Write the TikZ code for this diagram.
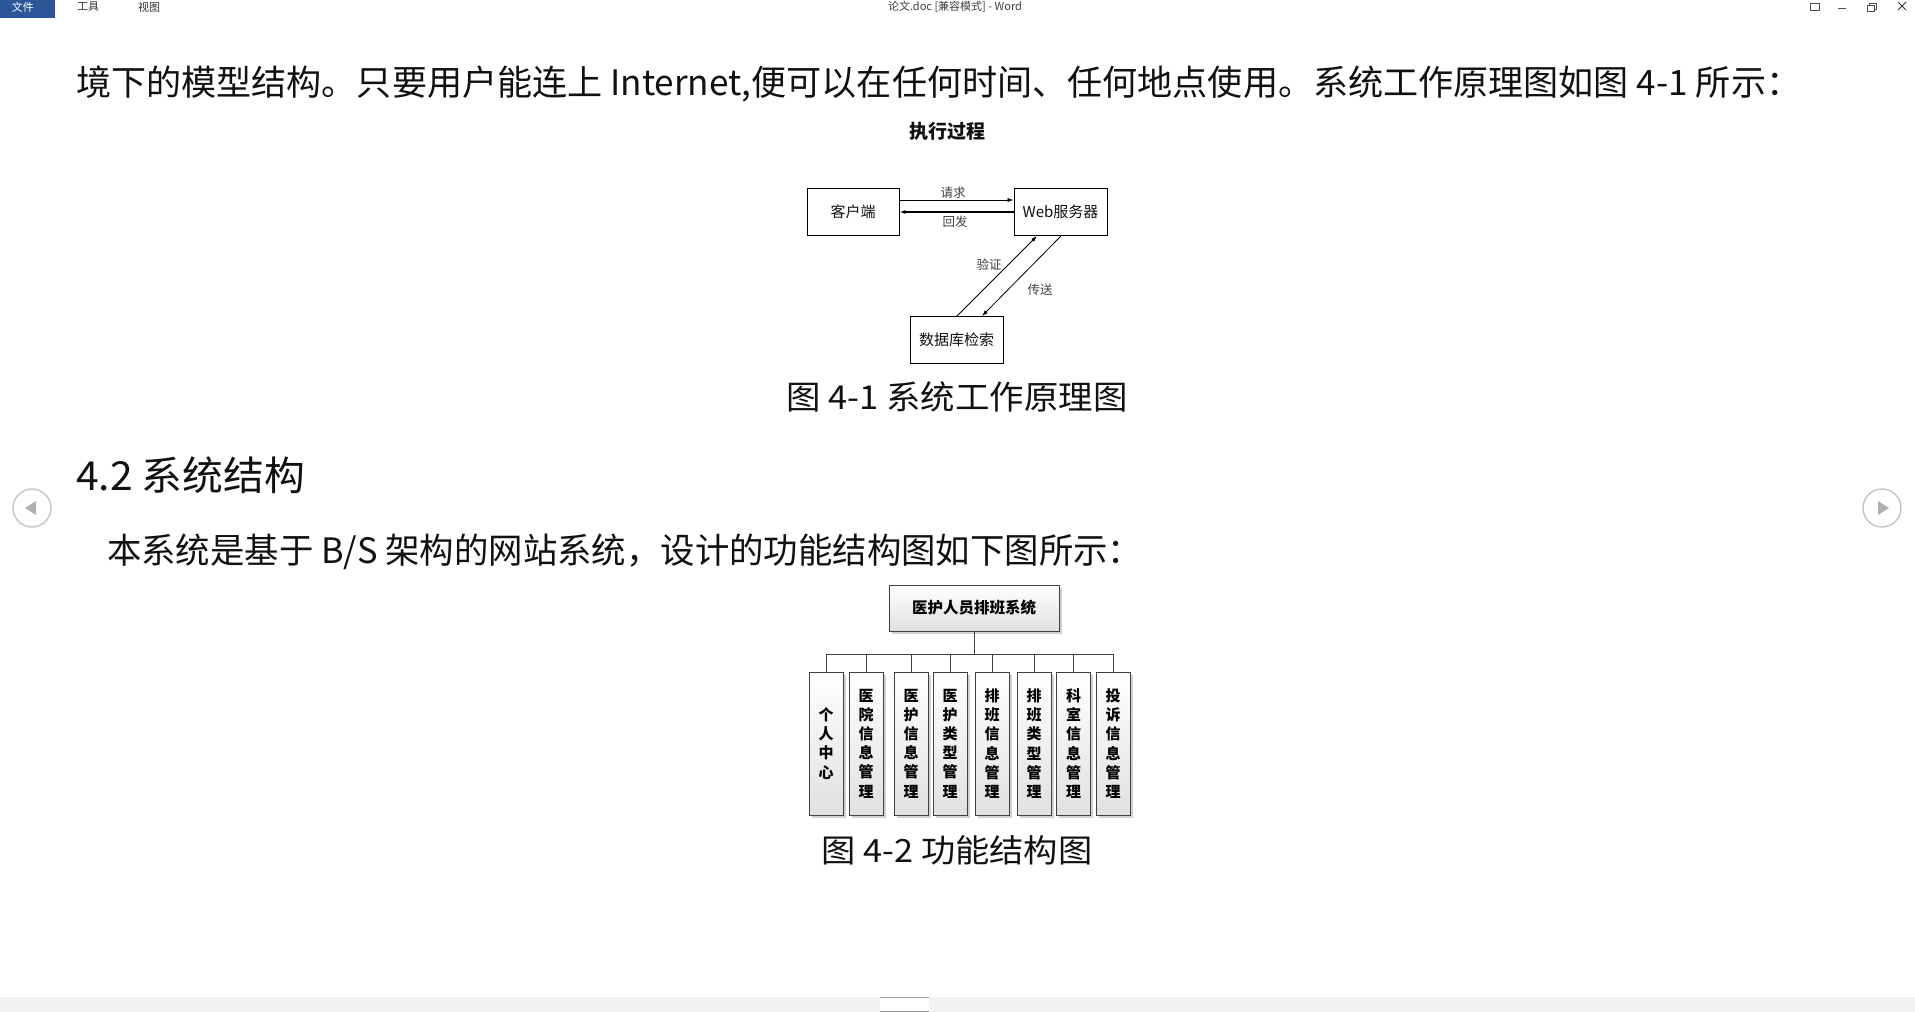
\documentclass[tikz,border=0pt]{standalone}
\usepackage{fontspec}
\usepackage{graphicx}
\usetikzlibrary{arrows.meta,shadows,calc}
\newfontfamily\cjk{Noto Sans CJK SC}
\definecolor{wordblue}{HTML}{2B579A}
\definecolor{txt}{HTML}{111111}
\definecolor{navgray}{HTML}{C4C4C4}
\tikzset{
  dbox/.style={draw=black, line width=0.9pt, fill=white, minimum width=92pt, minimum height=47pt, inner sep=0pt, font=\cjk\fontsize{15}{15}\selectfont, text=txt},
  arr/.style={-{Latex[length=6pt,width=4pt]}, line width=0.8pt, black},
  lbl/.style={font=\cjk\fontsize{12.5}{12.5}\selectfont, text=black!75, inner sep=0pt},
  orgbox/.style={draw=black!75, line width=0.9pt, top color=white, bottom color=black!12,
     drop shadow={shadow xshift=2.5pt, shadow yshift=-2.5pt, fill=black!30, opacity=0.6}, inner sep=0pt},
  orgroot/.style={orgbox, minimum width=170pt, minimum height=46pt, font=\cjk\bfseries\fontsize{15.5}{15.5}\selectfont},
  orgleaf/.style={orgbox, minimum width=34pt, minimum height=143pt, align=center, font=\cjk\bfseries\fontsize{15}{19.2}\selectfont},
  orgline/.style={draw=black!75, line width=0.9pt},
  bodytext/.style={font=\cjk\fontsize{35}{35}\selectfont, text=txt, inner sep=0pt},
  uitext/.style={font=\cjk\fontsize{11}{11}\selectfont, inner sep=0pt},
}
\begin{document}
\begin{tikzpicture}[x=1pt,y=-1pt]
\path[use as bounding box] (0,0) rectangle (1915,1012);
\fill[white] (0,0) rectangle (1915,1012);

% ---------- window chrome ----------
\fill[wordblue] (0,0) rectangle (55,18);
\node[uitext, text=white] (mfile) at (23,7) {文件};
\node[uitext, text=black!80] (mtools) at (88,7) {工具};
\node[uitext, text=black!80] (mview) at (149,7) {视图};
\node[uitext, text=black!75] (wtitle) at (955,7) {论文.doc [兼容模式] - Word};
% right icons
\draw[black!70, line width=0.7pt] (1810,3) -- (1810,10) -- (1819,10) -- (1819,3) -- cycle;
\draw[black!70, line width=0.9pt] (1838,8) -- (1846,8);
\draw[black!70, line width=0.7pt] (1867,5) rectangle (1874,11);
\draw[black!70, line width=0.7pt] (1869,5) -- (1869,3) -- (1876,3) -- (1876,9) -- (1874,9);
\draw[black!80, line width=0.9pt] (1898,2) -- (1906,10) (1906,2) -- (1898,10);

% navigation circles
\draw[navgray, line width=1.4pt, fill=white] (32,508) circle (19);
\fill[navgray!90!black] (25,508) -- (36,501) -- (36,515) -- cycle;
\draw[navgray, line width=1.4pt, fill=white] (1882,508) circle (19);
\fill[navgray!90!black] (1889,508) -- (1878,501) -- (1878,515) -- cycle;

% bottom bar
\fill[black!5] (0,997) rectangle (1915,1012);
\fill[white] (880,997) rectangle (929,1012);
\draw[black!40, line width=0.8pt] (880,997.5) -- (929,997.5) (880,1011.5) -- (929,1011.5);

% ---------- body text ----------
\node[bodytext, anchor=west] (para1) at (76,84) {\resizebox{1725pt}{\height}{境下的模型结构。只要用户能连上 Internet,便可以在任何时间、任何地点使用。系统工作原理图如图 4-1 所示：}};

% ---------- figure 4-1 ----------
\node[font=\cjk\bfseries\fontsize{19}{19}\selectfont, text=txt, inner sep=0pt] (ftitle) at (947,131) {执行过程};
\node[dbox] (client) at (853,212) {客户端};
\node[dbox, minimum width=93pt] (web) at (1060.5,212) {Web服务器};
\node[dbox, minimum width=93pt] (db) at (956.5,340) {数据库检索};

\draw[arr] ($(client.east)+(0,-12)$) -- ($(web.west)+(0,-12)$);
\draw[arr, line width=1.3pt] (web.west) -- (client.east);
\node[lbl] (lreq) at (953,193) {请求};
\node[lbl] (lback) at (955,222) {回发};

\draw[arr] ($(db.north)+(0.5,0)$) -- ($(web.south)+(-23.5,0)$);
\draw[arr] ($(web.south)+(0.5,0)$) -- ($(db.north)+(25.5,0)$);
\node[lbl] (lver) at (989,265) {验证};
\node[lbl] (lsend) at (1040,290) {传送};

\node[font=\cjk\fontsize{33}{33}\selectfont, text=txt, inner sep=0pt] (cap1) at (957,397) {\resizebox{341pt}{\height}{图 4-1 系统工作原理图}};

% ---------- section 4.2 ----------
\node[font=\cjk\fontsize{40}{40}\selectfont, text=txt, inner sep=0pt, anchor=west] (sec) at (76,475) {\resizebox{229pt}{\height}{4.2 系统结构}};
\node[bodytext, anchor=west] (para2) at (107,552) {\resizebox{1035pt}{\height}{本系统是基于 B/S 架构的网站系统，设计的功能结构图如下图所示：}};

% ---------- figure 4-2 ----------
\node[orgroot] (root) at (974,608) {医护人员排班系统};
\coordinate (bus) at (0,654);
\node[orgleaf] (c1) at (826,743.5) {个\\人\\中\\心};
\node[orgleaf] (c2) at (866,743.5) {医\\院\\信\\息\\管\\理};
\node[orgleaf] (c3) at (911,743.5) {医\\护\\信\\息\\管\\理};
\node[orgleaf] (c4) at (950,743.5) {医\\护\\类\\型\\管\\理};
\node[orgleaf] (c5) at (992,743.5) {排\\班\\信\\息\\管\\理};
\node[orgleaf] (c6) at (1034,743.5) {排\\班\\类\\型\\管\\理};
\node[orgleaf] (c7) at (1073.5,743.5) {科\\室\\信\\息\\管\\理};
\node[orgleaf] (c8) at (1113,743.5) {投\\诉\\信\\息\\管\\理};

\draw[orgline] (root.south) -- (root.south |- bus);
\draw[orgline] (c1.north |- bus) -- (c8.north |- bus);
\foreach \c in {c1,c2,c3,c4,c5,c6,c7,c8}{
  \draw[orgline] (\c.north |- bus) -- (\c.north);
}

\node[font=\cjk\fontsize{32}{32}\selectfont, text=txt, inner sep=0pt] (cap2) at (957,850) {\resizebox{271pt}{\height}{图 4-2 功能结构图}};
\end{tikzpicture}
\end{document}
